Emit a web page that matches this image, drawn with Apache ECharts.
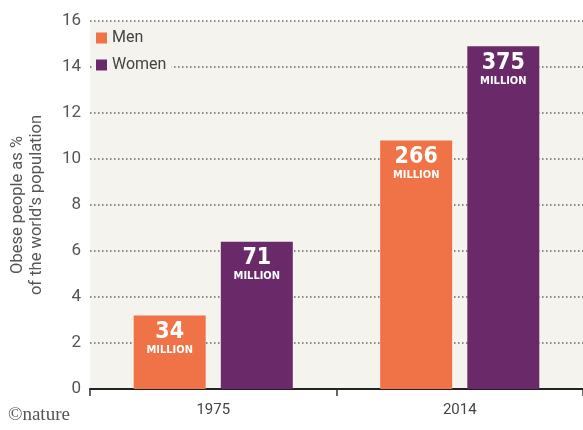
<!DOCTYPE html>
<html>
<head>
<meta charset="utf-8">
<script src="https://cdn.jsdelivr.net/npm/echarts@6/dist/echarts.min.js"></script>
<style>
  html, body { margin: 0; padding: 0; background: #fff; }
  #chart { width: 583px; height: 430px; }
</style>
</head>
<body>
<div id="chart"></div>
<script>
// 数据
const years = ['1975', '2014']
const menPct = [3.2, 10.8]
const womenPct = [6.4, 14.9]
const menMillions = [34, 266]
const womenMillions = [71, 375]
const yTicks = [0, 2, 4, 6, 8, 10, 12, 14, 16]

const MEN = '#ef7347'
const WOMEN = '#6a2a6a'
const PLOT_BG = '#f5f3ee'
const NARROW = '"Liberation Sans Narrow", "DejaVu Sans Condensed", sans-serif'

const chart = echarts.init(document.getElementById('chart'))

// 柱内 “xx MILLION” 标签
function millionLabel(millions) {
  return {
    show: true,
    position: 'insideTop',
    distance: 5,
    formatter: (p) => '{n|' + millions[p.dataIndex] + '}\n{m|MILLION}',
    rich: {
      n: { color: '#fff', fontSize: 23, fontWeight: 'bold', fontFamily: NARROW, lineHeight: 23 },
      m: { color: '#fff', fontSize: 11, fontWeight: 'bold', fontFamily: NARROW, lineHeight: 13 }
    }
  }
}

const option = {
  backgroundColor: '#fff',
  animation: false,
  grid: { left: 85, right: -8, top: 21, bottom: 41, show: false },
  legend: {
    left: 92,
    top: 27,
    orient: 'vertical',
    itemGap: 11,
    itemWidth: 11,
    itemHeight: 11,
    icon: 'rect',
    padding: [3, 5, 3, 4],
    backgroundColor: PLOT_BG,
    textStyle: { color: '#444', fontSize: 16, fontFamily: 'Roboto, sans-serif' },
    data: ['Men', 'Women']
  },
  xAxis: {
    type: 'category',
    data: years,
    axisLine: { lineStyle: { color: '#222', width: 2 } },
    axisTick: { show: true, length: 7, lineStyle: { color: '#333', width: 1.5 } },
    axisLabel: { color: '#444', fontSize: 15, margin: 14, fontFamily: 'Roboto, sans-serif' }
  },
  yAxis: {
    type: 'value',
    min: 0,
    max: 16,
    interval: 2,
    name: "Obese people as %\nof the world's population",
    nameLocation: 'middle',
    nameGap: 44,
    nameRotate: 90,
    nameTextStyle: { color: '#555', fontSize: 16.5, lineHeight: 19, fontFamily: 'Roboto, sans-serif' },
    axisLine: { show: false },
    axisTick: { show: false },
    axisLabel: {
      color: '#555',
      fontSize: 17,
      margin: 9,
      fontFamily: 'Roboto, sans-serif',
      formatter: (v) => (yTicks.indexOf(v) >= 0 ? String(v) : '')
    },
    // 绘图区底色用 splitArea，虚线网格画在其上
    splitArea: { show: true, areaStyle: { color: [PLOT_BG, PLOT_BG] } },
    splitLine: { show: true, lineStyle: { color: '#666', type: [1.5, 2.5], width: 1.5 } }
  },
  series: [
    {
      name: 'Men',
      type: 'bar',
      barWidth: 72,
      barGap: '21%',
      itemStyle: { color: MEN },
      label: millionLabel(menMillions),
      data: menPct
    },
    {
      name: 'Women',
      type: 'bar',
      barWidth: 72,
      itemStyle: { color: WOMEN },
      label: millionLabel(womenMillions),
      data: womenPct
    }
  ],
  graphic: [
    {
      type: 'text',
      left: 8,
      top: 406,
      style: {
        text: '©nature',
        fill: '#555',
        font: '19px "Liberation Serif", "DejaVu Serif", serif'
      }
    }
  ]
}

chart.setOption(option)
</script>
</body>
</html>
